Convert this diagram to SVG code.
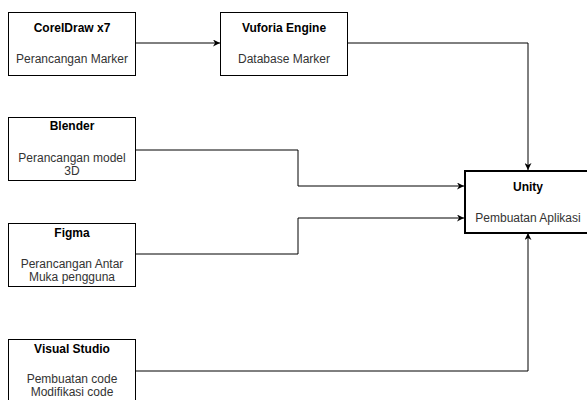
<svg xmlns="http://www.w3.org/2000/svg" width="587" height="400" viewBox="0 0 587 400">
<style>
.box{fill:#fff;stroke:#000;stroke-width:1}
.thick{stroke-width:2}
.t{font-family:"Liberation Sans",Arial,sans-serif;font-size:12px;text-anchor:middle}
.b{font-weight:bold;fill:#000}
.s{fill:#333}
.c{fill:none;stroke:#000;stroke-width:1}
</style>
<defs>
<marker id="ah" viewBox="0 0 10 10" refX="10" refY="5" markerWidth="7" markerHeight="7" orient="auto" markerUnits="userSpaceOnUse">
<path d="M0,0 L10,5 L0,10 L3,5 Z" fill="#000"/>
</marker>
</defs>
<rect width="587" height="400" fill="#fff"/>
<g id="connectors">
<path class="c" d="M136,43 H220" marker-end="url(#ah)"/>
<path class="c" d="M348,43 H528 V170" marker-end="url(#ah)"/>
<path class="c" d="M136,150 H298 V186 H464" marker-end="url(#ah)"/>
<path class="c" d="M136,254 H298 V218 H464" marker-end="url(#ah)"/>
<path class="c" d="M136,371 H528 V233" marker-end="url(#ah)"/>
</g>
<g id="coreldraw">
<rect class="box" x="8.5" y="12.5" width="127" height="63"/>
<text class="t b" x="72" y="32">CorelDraw x7</text>
<text class="t s" x="72" y="63">Perancangan Marker</text>
</g>
<g id="vuforia">
<rect class="box" x="220.5" y="12.5" width="127" height="63"/>
<text class="t b" x="284" y="32">Vuforia Engine</text>
<text class="t s" x="284" y="63">Database Marker</text>
</g>
<g id="blender">
<rect class="box" x="8.5" y="117.5" width="127" height="63"/>
<text class="t b" x="72" y="130">Blender</text>
<text class="t s" x="72" y="162">Perancangan model</text>
<text class="t s" x="72" y="175">3D</text>
</g>
<g id="figma">
<rect class="box" x="8.5" y="223.5" width="127" height="63"/>
<text class="t b" x="72" y="237">Figma</text>
<text class="t s" x="72" y="268">Perancangan Antar</text>
<text class="t s" x="72" y="281">Muka pengguna</text>
</g>
<g id="visualstudio">
<rect class="box" x="8.5" y="339.5" width="127" height="63"/>
<text class="t b" x="72" y="353">Visual Studio</text>
<text class="t s" x="72" y="383">Pembuatan code</text>
<text class="t s" x="72" y="396">Modifikasi code</text>
</g>
<g id="unity">
<rect class="box thick" x="465" y="171" width="126" height="62"/>
<text class="t b" x="528" y="191">Unity</text>
<text class="t s" x="528" y="222">Pembuatan Aplikasi</text>
</g>
</svg>
